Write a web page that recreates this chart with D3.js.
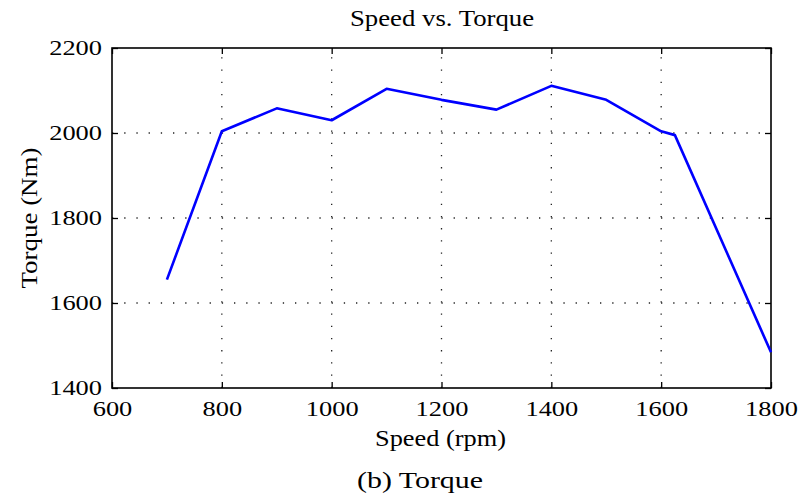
<!DOCTYPE html>
<html>
<head>
<meta charset="utf-8">
<script src="https://cdn.jsdelivr.net/npm/d3@7"></script>
<style>
  html, body { margin: 0; padding: 0; background: #fff; }
  svg { display: block; }
</style>
</head>
<body>
<svg id="chart" width="799" height="499"></svg>
<script>
// Engine speed (rpm) and measured torque (Nm)
const speed  = [700, 800, 900, 1000, 1100, 1200, 1300, 1400, 1500, 1600, 1625, 1800];
const torque = [1655, 2004, 2058, 2030, 2104, 2078, 2055, 2111, 2078, 2004, 1995, 1484];

const xTicks = [600, 800, 1000, 1200, 1400, 1600, 1800];
const yTicks = [1400, 1600, 1800, 2000, 2200];

const titleText = "Speed vs. Torque";
const xLabel = "Speed (rpm)";
const yLabel = "Torque (Nm)";
const caption = "(b) Torque";

const W = 799, H = 499;
const m = { left: 112, right: 28, top: 48, bottom: 111 };
const iw = W - m.left - m.right, ih = H - m.top - m.bottom;
const FONT = '"Liberation Serif", "Times New Roman", Times, serif';

const svg = d3.select("#chart");
const g = svg.append("g").attr("transform", `translate(${m.left},${m.top})`);

const x = d3.scaleLinear().domain([600, 1800]).range([0, iw]);
const y = d3.scaleLinear().domain([1400, 2200]).range([ih, 0]);

const TICK_FS = 22, LABEL_FS = 24;
const fmt = d3.format("d");

// widen a text node horizontally by a factor
function widen(sel, k) {
  sel.each(function () {
    const len = this.getComputedTextLength();
    if (len > 0) {
      this.setAttribute("textLength", len * k);
      this.setAttribute("lengthAdjust", "spacingAndGlyphs");
    }
  });
}

// dotted grid
const grid = g.append("g").attr("stroke", "#222").attr("stroke-width", 1.3)
  .attr("stroke-dasharray", "1.3,10.9");
grid.selectAll("line.v").data(xTicks.slice(1, -1)).join("line").attr("class", "v")
  .attr("x1", d => x(d)).attr("x2", d => x(d)).attr("y1", ih).attr("y2", 0);
grid.selectAll("line.h").data(yTicks.slice(1, -1)).join("line").attr("class", "h")
  .attr("y1", d => y(d)).attr("y2", d => y(d)).attr("x1", 0).attr("x2", iw);

// axes with inward ticks on all sides
const tick = 6;
const axBottom = g.append("g").attr("transform", `translate(0,${ih})`)
  .call(d3.axisBottom(x).tickValues(xTicks).tickFormat(fmt).tickSizeInner(-tick).tickSizeOuter(0).tickPadding(12));
const axTop = g.append("g")
  .call(d3.axisTop(x).tickValues(xTicks).tickSizeInner(-tick).tickSizeOuter(0).tickFormat(""));
const axLeft = g.append("g")
  .call(d3.axisLeft(y).tickValues(yTicks).tickFormat(fmt).tickSizeInner(-tick).tickSizeOuter(0).tickPadding(10));
const axRight = g.append("g").attr("transform", `translate(${iw},0)`)
  .call(d3.axisRight(y).tickValues(yTicks).tickSizeInner(-tick).tickSizeOuter(0).tickFormat(""));

[axBottom, axTop, axLeft, axRight].forEach(a => {
  a.select(".domain").remove();
  a.selectAll(".tick line").attr("stroke", "#000").attr("stroke-width", 1.3);
  a.selectAll("text").style("font-family", FONT).attr("font-size", TICK_FS).attr("fill", "#000");
});
axBottom.selectAll("text").attr("dy", "0.71em");
axLeft.selectAll("text").attr("dy", "0.3em");
widen(axBottom.selectAll("text"), 1.2);
widen(axLeft.selectAll("text"), 1.2);

// frame
g.append("rect").attr("x", 0).attr("y", 0).attr("width", iw).attr("height", ih)
  .attr("fill", "none").attr("stroke", "#000").attr("stroke-width", 1.6);

// torque curve
g.append("path")
  .datum(speed.map((s, i) => [s, torque[i]]))
  .attr("fill", "none").attr("stroke", "#0000ff").attr("stroke-width", 2.6)
  .attr("stroke-linejoin", "round")
  .attr("d", d3.line().x(d => x(d[0])).y(d => y(d[1])));

// title, axis labels and caption
function label(txt, tx, ty, rot, len) {
  const t = svg.append("text")
    .attr("transform", `translate(${tx},${ty})` + (rot ? ` rotate(${rot})` : ""))
    .attr("text-anchor", "middle").attr("font-size", LABEL_FS).attr("fill", "#000")
    .style("font-family", FONT).text(txt);
  t.attr("textLength", len).attr("lengthAdjust", "spacingAndGlyphs");
  return t;
}
label(titleText, 442, 26, 0, 184);
label(xLabel, 440.5, 446, 0, 131);
label(yLabel, 37, m.top + ih / 2, -90, 141);
label(caption, 420, 488, 0, 126);
</script>
</body>
</html>
